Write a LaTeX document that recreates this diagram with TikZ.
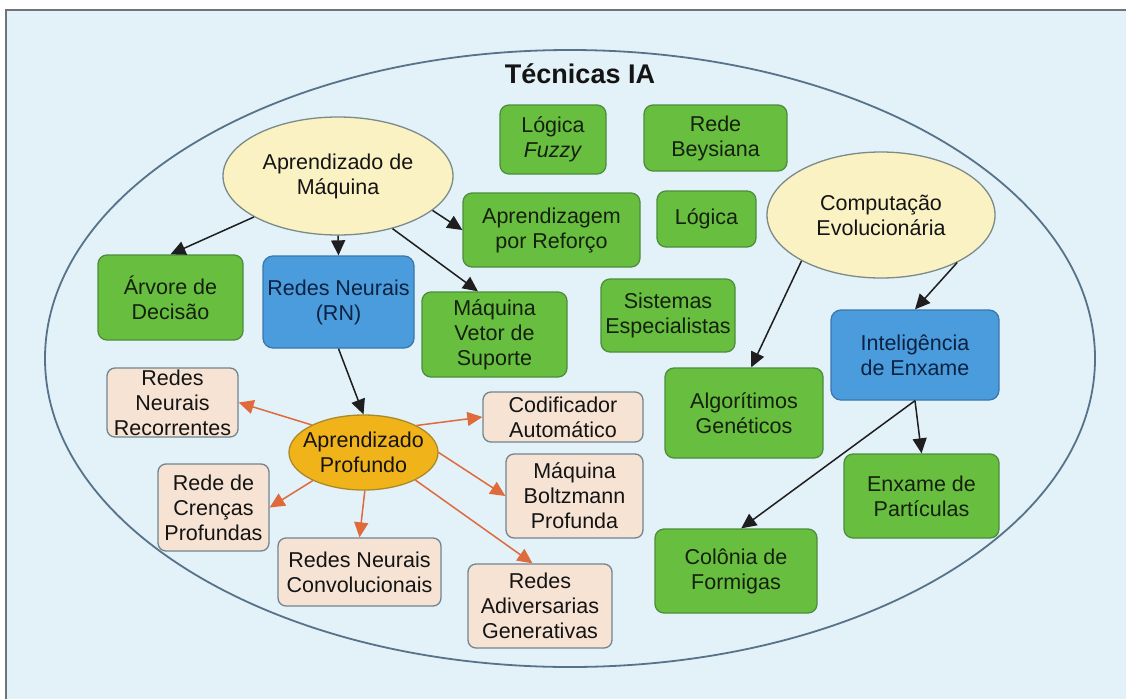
\documentclass[tikz,border=0pt]{standalone}
\usepackage{fontspec}
\setmainfont{Liberation Sans}
\usetikzlibrary{arrows.meta,shapes.geometric,calc}

\definecolor{bgblue}{HTML}{E3F1F8}
\definecolor{framegray}{HTML}{6E7478}
\definecolor{outline}{HTML}{56738A}
\definecolor{greenfill}{HTML}{68BE3E}
\definecolor{greenline}{HTML}{4C8E3C}
\definecolor{bluefill}{HTML}{4A9CDD}
\definecolor{blueline}{HTML}{3A77AE}
\definecolor{creamfill}{HTML}{FBF2C4}
\definecolor{creamline}{HTML}{7C8A88}
\definecolor{goldfill}{HTML}{F1B31A}
\definecolor{goldline}{HTML}{A88A2A}
\definecolor{peachfill}{HTML}{F6E3D3}
\definecolor{peachline}{HTML}{72848F}
\definecolor{orangearrow}{HTML}{DF6A3C}
\definecolor{darkarrow}{HTML}{1E1E1E}
\definecolor{greentext}{HTML}{15200F}
\definecolor{bluetext}{HTML}{0C2240}

\tikzset{
  base/.style={align=center, inner sep=0pt, font=\fontsize{21.5}{25}\selectfont},
  sz/.style 2 args={minimum width=#1pt, minimum height=#2pt},
  greenbox/.style={base, rectangle, rounded corners=9pt, draw=greenline, fill=greenfill,
    line width=1.3pt, text=greentext},
  bluebox/.style={base, rectangle, rounded corners=10pt, draw=blueline, fill=bluefill,
    line width=1.3pt, text=bluetext},
  peachbox/.style={base, rectangle, rounded corners=8pt, draw=peachline, fill=peachfill,
    line width=1.3pt, text=black!92},
  creamell/.style={base, ellipse, inner xsep=-20pt, inner ysep=-10pt, draw=creamline,
    fill=creamfill, line width=1.3pt, text=black!92},
  goldell/.style={base, ellipse, inner xsep=-20pt, inner ysep=-10pt, draw=goldline,
    fill=goldfill, line width=1.3pt, text=black!92},
  darrow/.style={-{Triangle[length=15pt,width=14pt]}, draw=darkarrow, line width=1.5pt},
  oarrow/.style={-{Triangle[length=15pt,width=14pt]}, draw=orangearrow, line width=1.5pt},
}

\begin{document}
\begin{tikzpicture}[x=1pt,y=-1pt]
  \path[use as bounding box] (0,0) rectangle (1126,699);
  % page and frame
  \fill[white] (0,0) rectangle (1126,699);
  \fill[bgblue] (6,10) rectangle (1126,699);
  \draw[framegray, line width=2.5pt] (6,699) -- (6,10) -- (1126,10);

  % enclosing ellipse with title
  \node[ellipse, draw=outline, line width=1.8pt, minimum width=1050pt, minimum height=617pt,
        inner sep=0pt] (boundary) at (570,358.5) {};
  \node[font=\fontsize{27}{30}\selectfont\bfseries, text=black!92] (title) at (580,74) {Técnicas IA};

  % machine learning branch
  \node[creamell, sz={230}{118}] (am) at (338,176) {Aprendizado de\\Máquina};
  \node[greenbox, sz={145}{85}] (arv) at (170.5,297.5) {Árvore de\\Decisão};
  \node[bluebox, sz={151}{92}] (rn) at (338.5,302) {Redes Neurais\\(RN)};
  \node[greenbox, sz={145}{85}] (mvs) at (494.5,334.5) {Máquina\\Vetor de\\Suporte};
  \node[greenbox, sz={177}{74}] (apr) at (551.5,230) {Aprendizagem\\por Reforço};

  % stand-alone techniques
  \node[greenbox, sz={106}{69}] (lf) at (553,139.5) {Lógica\\\textit{Fuzzy}};
  \node[greenbox, sz={143}{66}] (rb) at (715.5,138) {Rede\\Beysiana};
  \node[greenbox, sz={99}{56}] (lg) at (706.5,219) {Lógica};
  \node[greenbox, sz={134}{73}] (se) at (668,315.5) {Sistemas\\Especialistas};

  % evolutionary computation branch
  \node[creamell, sz={228}{126}] (ce) at (881,215) {Computação\\Evolucionária};
  \node[bluebox, sz={168}{90}] (ie) at (915,355) {Inteligência\\de Enxame};
  \node[greenbox, sz={158}{90}] (ag) at (744,413) {Algorítimos\\Genéticos};
  \node[greenbox, sz={155}{84}] (ep) at (921.5,496) {Enxame de\\Partículas};
  \node[greenbox, sz={162}{84}] (cf) at (736,571) {Colônia de\\Formigas};

  % deep learning branch
  \node[goldell, sz={149}{75}] (ap) at (363.5,452.5) {Aprendizado\\Profundo};
  \node[peachbox, sz={131}{69}] (rnr) at (172.5,402.5) {Redes\\Neurais\\Recorrentes};
  \node[peachbox, sz={160}{50}] (cod) at (563,417) {Codificador\\Automático};
  \node[peachbox, sz={137}{84}] (mbp) at (574.5,496) {Máquina\\Boltzmann\\Profunda};
  \node[peachbox, sz={111}{87}] (rcp) at (213.5,507.5) {Rede de\\Crenças\\Profundas};
  \node[peachbox, sz={163}{68}] (rnc) at (359.5,572) {Redes Neurais\\Convolucionais};
  \node[peachbox, sz={144}{84}] (rag) at (540,606) {Redes\\Adiversarias\\Generativas};

  % connectors
  \draw[darrow] (am.206.8) -- (arv.north);
  \draw[darrow] (am.south) -- (rn.north);
  \draw[darrow] (am.-44.5) -- (mvs.111);
  \draw[darrow] (am.-20.8) -- (apr.west);
  \draw[darrow] (rn.south) -- (ap.north);
  \draw[darrow] (ce.210.4) -- (ag.81);
  \draw[darrow] (ce.-32) -- (ie.north);
  \draw[darrow] (ie.south) -- (ep.north);
  \draw[darrow] (ie.south) -- (cf.83);

  \draw[oarrow] (ap.152) -- (rnr.east);
  \draw[oarrow] (ap.27.6) -- (cod.west);
  \draw[oarrow] (ap.209.7) -- (rcp.east);
  \draw[oarrow] (ap.-88) -- (rnc.north);
  \draw[oarrow] (ap.east) -- (mbp.west);
  \draw[oarrow] (ap.-28.4) -- (rag.100);
\end{tikzpicture}
\end{document}
